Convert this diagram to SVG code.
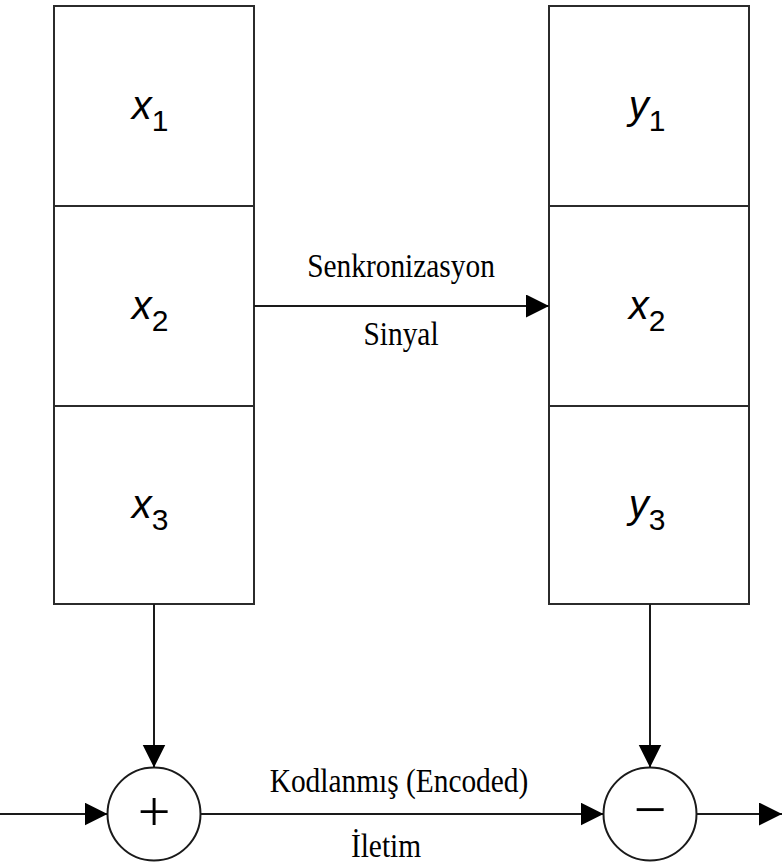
<svg xmlns="http://www.w3.org/2000/svg" width="782" height="867" viewBox="0 0 782 867">
  <style>
    .cell { fill: #ffffff; stroke: #2b2b2b; stroke-width: 2; }
    .op { fill: #ffffff; stroke: #1a1a1a; stroke-width: 2; }
    .wire { fill: none; stroke: #1a1a1a; stroke-width: 2; }
    .var { font-family: "Liberation Sans", Arial, sans-serif; font-size: 40px; font-style: italic; fill: #000; }
    .sub { font-style: normal; font-size: 30px; }
    .lbl { font-family: "Liberation Serif", "Times New Roman", serif; font-size: 28px; fill: #000; }
    .sym { font-family: "Liberation Serif", "Times New Roman", serif; font-size: 58px; fill: #000; }
  </style>
  <defs>
    <marker id="head" markerUnits="userSpaceOnUse" markerWidth="24" markerHeight="24" refX="23" refY="11.5" orient="auto">
      <path d="M0,0 L23,11.5 L0,23 Z" fill="#000"/>
    </marker>
  </defs>
  <rect width="782" height="867" fill="#ffffff"/>

  <!-- sender register -->
  <g id="x1">
    <rect class="cell" x="54" y="6" width="200" height="200"/>
    <text class="var" x="150" y="119" text-anchor="middle">x<tspan class="sub" dy="12">1</tspan></text>
  </g>
  <g id="x2">
    <rect class="cell" x="54" y="206" width="200" height="200"/>
    <text class="var" x="150" y="319" text-anchor="middle">x<tspan class="sub" dy="12">2</tspan></text>
  </g>
  <g id="x3">
    <rect class="cell" x="54" y="406" width="200" height="198"/>
    <text class="var" x="150" y="518" text-anchor="middle">x<tspan class="sub" dy="12">3</tspan></text>
  </g>

  <!-- receiver register -->
  <g id="y1">
    <rect class="cell" x="549" y="6" width="200" height="200"/>
    <text class="var" x="647" y="119" text-anchor="middle">y<tspan class="sub" dy="12">1</tspan></text>
  </g>
  <g id="rx2">
    <rect class="cell" x="549" y="206" width="200" height="200"/>
    <text class="var" x="647" y="319" text-anchor="middle">x<tspan class="sub" dy="12">2</tspan></text>
  </g>
  <g id="y3">
    <rect class="cell" x="549" y="406" width="200" height="198"/>
    <text class="var" x="647" y="518" text-anchor="middle">y<tspan class="sub" dy="12">3</tspan></text>
  </g>

  <!-- combiners -->
  <g id="adder">
    <circle class="op" cx="154" cy="814" r="46.5"/>
    <text class="sym" x="154" y="831" text-anchor="middle">+</text>
  </g>
  <g id="subtractor">
    <circle class="op" cx="650" cy="814" r="46.5"/>
    <text class="sym" x="650" y="829" text-anchor="middle">−</text>
  </g>

  <!-- connectors -->
  <g id="connectors">
    <path class="wire" d="M254,306 H549" marker-end="url(#head)"/>
    <path class="wire" d="M154,604 V767.5" marker-end="url(#head)"/>
    <path class="wire" d="M650,604 V767.5" marker-end="url(#head)"/>
    <path class="wire" d="M0,814 H107.5" marker-end="url(#head)"/>
    <path class="wire" d="M200.5,814 H603.5" marker-end="url(#head)"/>
    <path class="wire" d="M696.5,814 H782" marker-end="url(#head)"/>
  </g>

  <!-- connector labels, set slightly tall -->
  <g id="labels">
    <text class="lbl" text-anchor="middle" transform="translate(401,277) scale(1.05,1.2)">Senkronizasyon</text>
    <text class="lbl" text-anchor="middle" transform="translate(401,345) scale(1.05,1.2)">Sinyal</text>
    <text class="lbl" text-anchor="middle" transform="translate(399,792) scale(1.05,1.2)">Kodlanmış (Encoded)</text>
    <text class="lbl" text-anchor="middle" transform="translate(386,857) scale(1.05,1.2)">İletim</text>
  </g>
</svg>
